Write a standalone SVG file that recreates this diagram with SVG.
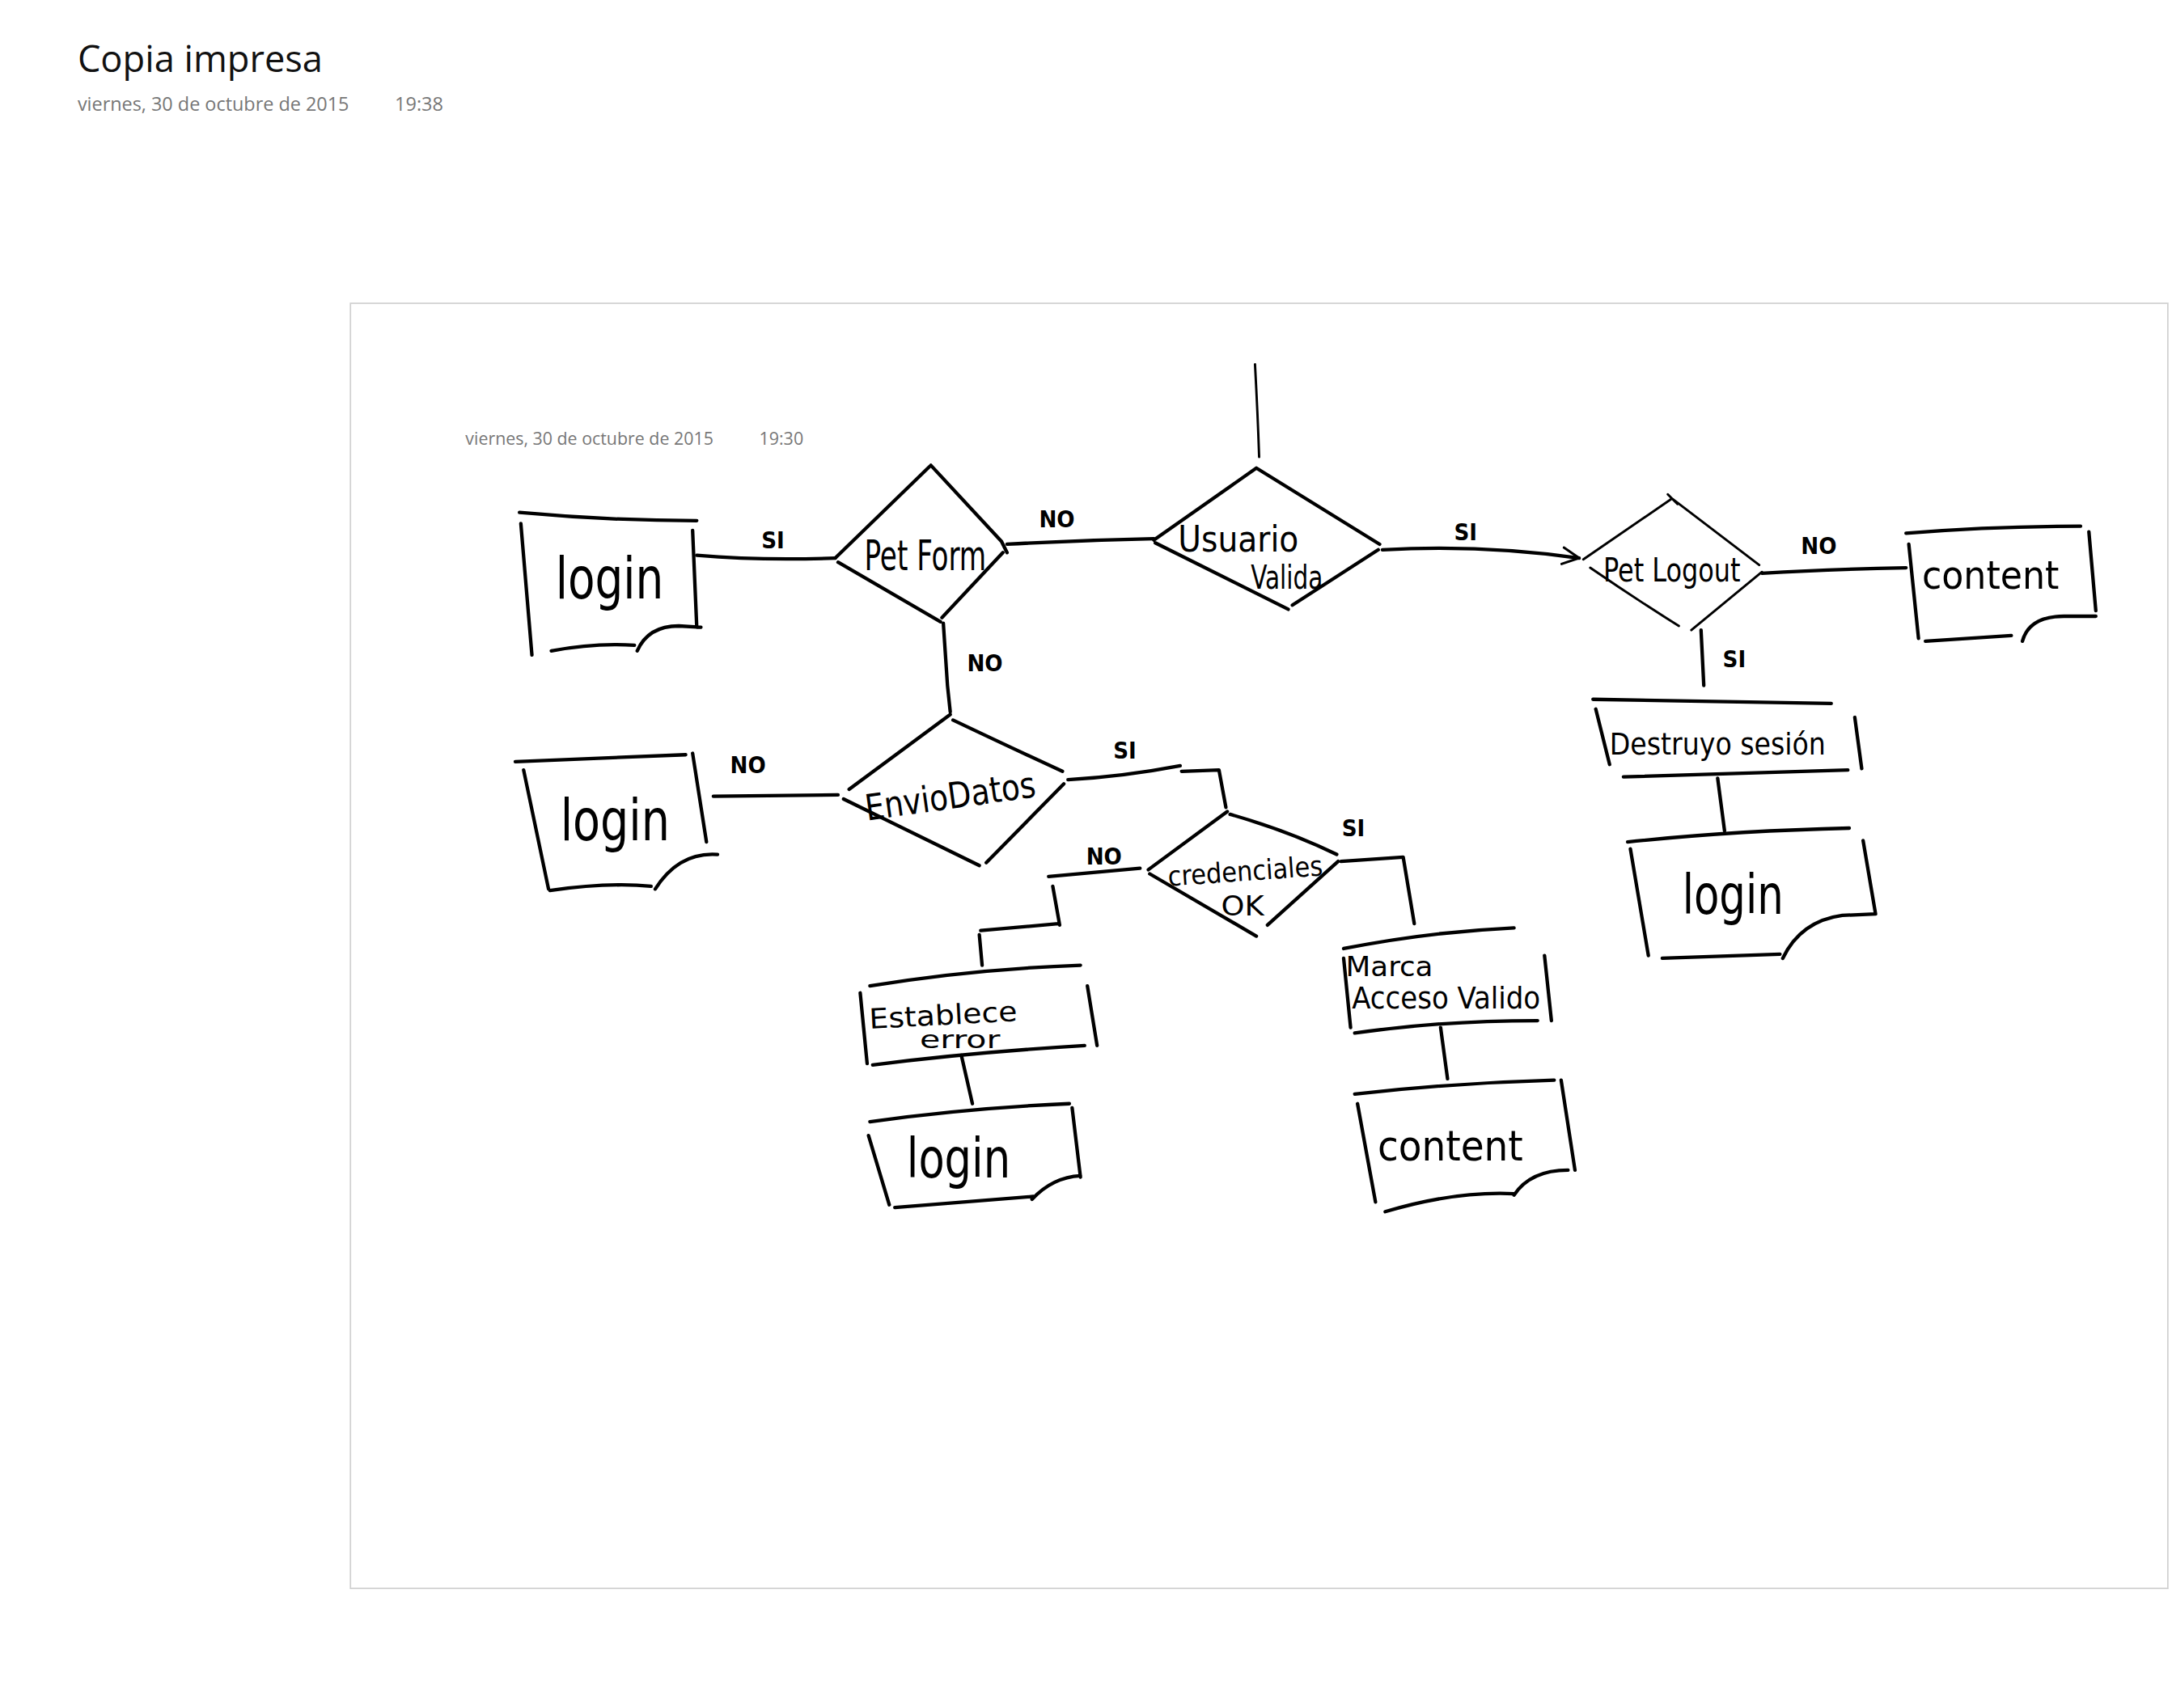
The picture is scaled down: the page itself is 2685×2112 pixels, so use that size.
<svg xmlns="http://www.w3.org/2000/svg" width="2685" height="2112" viewBox="0 0 2685 2112">
<style>
.ink{fill:none;stroke:#000;stroke-width:2.5;stroke-linecap:round;stroke-linejoin:round}
.thin{stroke-width:1.7}
.hw{font-family:"Liberation Sans Narrow","DejaVu Sans Condensed","Liberation Sans",sans-serif;fill:#000;text-anchor:middle}
.lbl{font-family:"Liberation Sans Narrow","DejaVu Sans Condensed","Liberation Sans",sans-serif;fill:#000;font-size:17px;text-anchor:middle;font-weight:bold}
.hdr{font-family:"Open Sans","Noto Sans","Liberation Sans",sans-serif}
.meta{font-family:"Open Sans","Noto Sans","Liberation Sans",sans-serif;fill:#777}
</style>
<defs>
<marker id="chev" viewBox="0 0 14 14" refX="13" refY="7" markerWidth="14" markerHeight="14" markerUnits="userSpaceOnUse" orient="auto">
<path d="M1,1 L13,7 L1,13" fill="none" stroke="#000" stroke-width="1.8" stroke-linecap="round" stroke-linejoin="round"/>
</marker>
</defs>
<rect width="2685" height="2112" fill="#fff"/>
<g transform="scale(1.71237)">
<g id="header">
<text class="hdr" x="56" y="52" font-size="27" textLength="177" lengthAdjust="spacingAndGlyphs" fill="#111">Copia impresa</text>
<text class="meta" x="56" y="80" font-size="13.5" textLength="196" lengthAdjust="spacingAndGlyphs">viernes, 30 de octubre de 2015</text>
<text class="meta" x="285" y="80" font-size="13.5" textLength="35" lengthAdjust="spacingAndGlyphs">19:38</text>
</g>
<rect id="frame" x="253" y="219" width="1312" height="928" fill="none" stroke="#d0d0d0" stroke-width="1"/>
<g id="inner-date">
<text class="meta" x="336" y="321" font-size="12.5" textLength="179" lengthAdjust="spacingAndGlyphs">viernes, 30 de octubre de 2015</text>
<text class="meta" x="548" y="321" font-size="12.5" textLength="32" lengthAdjust="spacingAndGlyphs">19:30</text>
</g>

<g id="connectors">
<path id="c-top" class="ink thin" d="M906,263 Q908,300 909,330"/>
<path id="c-login1-petform" class="ink" d="M503,401 Q550,405 603,403"/>
<path id="c-petform-usuario" class="ink" d="M727,393 Q780,390 833,389"/>
<path id="c-usuario-petlogout" class="ink" d="M998,397 Q1070,393 1140,403" marker-end="url(#chev)"/>
<path id="c-petlogout-content1" class="ink" d="M1272,414 Q1320,411 1376,410"/>
<path id="c-petlogout-destruyo" class="ink" d="M1228,455 L1230,495"/>
<path id="c-destruyo-login3" class="ink" d="M1240,562 L1245,600"/>
<path id="c-petform-envio" class="ink" d="M681,450 L684,495 L686,514"/>
<path id="c-envio-login2" class="ink" d="M515,575 L605,574"/>
<path id="c-envio-cred" class="ink" d="M771,563 Q810,561 852,553 M853,557 L880,556 L885,583"/>
<path id="c-cred-establece" class="ink" d="M823,627 L757,633 M760,640 L765,668 M764,667 L708,672 M707,675 L709,697"/>
<path id="c-establece-login4" class="ink" d="M694,762 L702,797"/>
<path id="c-cred-marca" class="ink" d="M968,622 L1013,619 L1021,667"/>
<path id="c-marca-content2" class="ink" d="M1040,742 L1045,779"/>
<text class="lbl" x="558" y="396">SI</text>
<text class="lbl" x="763" y="381">NO</text>
<text class="lbl" x="1058" y="390">SI</text>
<text class="lbl" x="1313" y="400">NO</text>
<text class="lbl" x="1252" y="482">SI</text>
<text class="lbl" x="711" y="485">NO</text>
<text class="lbl" x="540" y="558">NO</text>
<text class="lbl" x="812" y="548">SI</text>
<text class="lbl" x="797" y="624">NO</text>
<text class="lbl" x="977" y="604">SI</text>
</g>

<g id="login1">
<path class="ink" d="M375,370 Q440,376 503,376 M376,378 L384,473 M500,383 L503,453 M398,470 Q430,464 458,466 M460,470 Q468,452 490,452 L506,453"/>
<text class="hw" x="440" y="432" font-size="42" textLength="78" lengthAdjust="spacingAndGlyphs">login</text>
</g>
<g id="petform">
<path class="ink" d="M603,403 L671,337 M672,336 L723,391 L727,399 M724,399 L680,446 M605,406 L679,449"/>
<text class="hw" x="668" y="412" font-size="30" textLength="88" lengthAdjust="spacingAndGlyphs">Pet Form</text>
</g>
<g id="usuario">
<path class="ink" d="M833,390 L907,338 L996,393 M995,397 L933,437 M834,392 L930,440"/>
<text class="hw" x="894" y="398" font-size="26" textLength="87" lengthAdjust="spacingAndGlyphs">Usuario</text>
<text class="hw" x="929" y="425" font-size="24" textLength="52" lengthAdjust="spacingAndGlyphs">Valida</text>
</g>
<g id="petlogout">
<path class="ink thin" d="M1143,404 L1207,360 M1204,357 L1211,364 M1207,360 L1270,408 M1272,413 L1221,455 M1148,410 Q1180,432 1212,452"/>
<text class="hw" x="1207" y="420" font-size="24" textLength="99" lengthAdjust="spacingAndGlyphs">Pet Logout</text>
</g>
<g id="content1">
<path class="ink" d="M1376,385 Q1440,380 1502,380 M1378,393 L1385,461 M1508,384 L1513,441 M1390,463 L1452,459 M1460,463 Q1465,445 1490,445 L1513,445"/>
<text class="hw" x="1437" y="425" font-size="28" textLength="99" lengthAdjust="spacingAndGlyphs">content</text>
</g>
<g id="destruyo">
<path class="ink" d="M1150,505 L1322,508 M1152,512 L1162,552 M1339,518 L1344,555 M1172,561 L1334,556"/>
<text class="hw" x="1240" y="545" font-size="22" textLength="156" lengthAdjust="spacingAndGlyphs">Destruyo sesión</text>
</g>
<g id="login3">
<path class="ink" d="M1175,608 Q1250,600 1335,598 M1177,613 L1190,690 M1345,607 L1354,660 M1200,692 L1285,689 M1287,692 Q1300,665 1330,661 L1354,660"/>
<text class="hw" x="1251" y="660" font-size="40" textLength="73" lengthAdjust="spacingAndGlyphs">login</text>
</g>
<g id="enviodatos">
<path class="ink" d="M686,516 L613,570 M688,520 Q730,540 767,557 M768,566 L712,623 M609,577 L707,625"/>
<text class="hw" x="686" y="584" font-size="26" textLength="124" lengthAdjust="spacingAndGlyphs" transform="rotate(-8 686 575)">EnvioDatos</text>
</g>
<g id="login2">
<path class="ink" d="M372,550 Q440,547 495,545 M378,556 L396,642 M500,544 L510,608 M397,643 Q440,637 470,640 M473,642 Q490,615 518,617"/>
<text class="hw" x="444" y="607" font-size="42" textLength="79" lengthAdjust="spacingAndGlyphs">login</text>
</g>
<g id="credenciales">
<path class="ink" d="M886,586 L829,628 M888,588 Q930,600 965,617 M966,622 L915,668 M830,631 L907,676"/>
<text class="hw" x="899" y="636" font-size="20" textLength="112" lengthAdjust="spacingAndGlyphs" transform="rotate(-4 899 630)">credenciales</text>
<text class="hw" x="897" y="661" font-size="20" textLength="31" lengthAdjust="spacingAndGlyphs">OK</text>
</g>
<g id="establece">
<path class="ink" d="M628,712 Q700,700 780,697 M621,717 L626,768 M785,712 L792,755 M630,769 Q700,760 783,755"/>
<text class="hw" x="681" y="740" font-size="20" textLength="107" lengthAdjust="spacingAndGlyphs" transform="rotate(-3 681 735)">Establece</text>
<text class="hw" x="693" y="757" font-size="18" textLength="58" lengthAdjust="spacingAndGlyphs">error</text>
</g>
<g id="login4">
<path class="ink" d="M628,810 Q700,800 772,797 M627,820 L642,870 M774,800 L780,850 M646,872 L746,864 M745,866 Q760,850 780,849"/>
<text class="hw" x="692" y="850" font-size="40" textLength="75" lengthAdjust="spacingAndGlyphs">login</text>
</g>
<g id="marca">
<path class="ink" d="M970,685 Q1030,673 1093,670 M970,692 L975,742 M1115,690 L1120,737 M978,746 Q1040,737 1110,737"/>
<text class="hw" x="1003" y="705" font-size="20" textLength="63" lengthAdjust="spacingAndGlyphs">Marca</text>
<text class="hw" x="1044" y="728" font-size="22" textLength="136" lengthAdjust="spacingAndGlyphs">Acceso Valido</text>
</g>
<g id="content2">
<path class="ink" d="M978,790 Q1050,782 1122,780 M980,797 L993,868 M1127,780 L1137,845 M1000,875 Q1050,860 1093,862 M1093,863 Q1105,845 1132,845"/>
<text class="hw" x="1047" y="838" font-size="30" textLength="105" lengthAdjust="spacingAndGlyphs">content</text>
</g>
</g>
</svg>
